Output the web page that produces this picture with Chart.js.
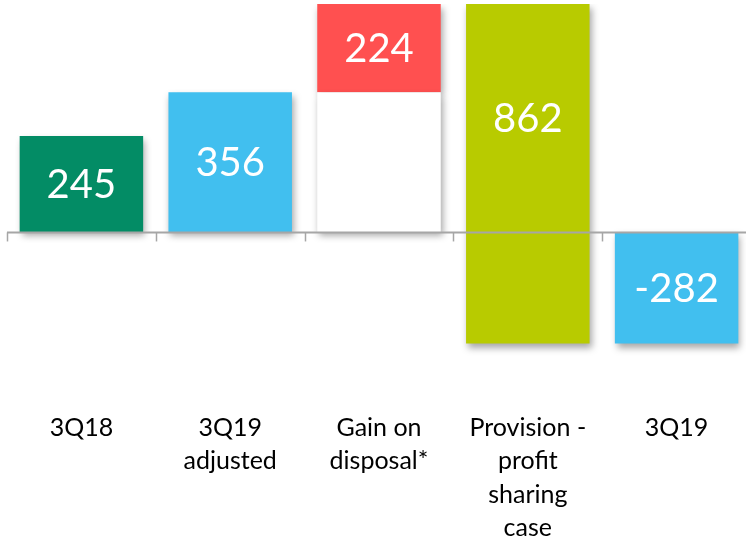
<!DOCTYPE html>
<html>
<head>
<meta charset="utf-8">
<script src="https://cdn.jsdelivr.net/npm/chart.js@4/dist/chart.umd.min.js"></script>
<style>
  html, body { margin: 0; padding: 0; background: #ffffff; overflow: hidden; }
  #wrap { position: relative; width: 751px; height: 543px; }
</style>
</head>
<body>
<div id="wrap"><canvas id="c"></canvas></div>
<script>
// ---- data ----
const categories = [["3Q18"], ["3Q19", "adjusted"], ["Gain on", "disposal*"], ["Provision -", "profit", "sharing", "case"], ["3Q19"]];
const barStarts  = [0, 0, 356, 580, 0];
const barEnds    = [245, 356, 580, -282, -282];
const valueLabels = ["245", "356", "224", "862", "-282"];
const barColors  = ["#038C65", "#41BFEF", "#FF5050", "#B8CB00", "#41BFEF"];
const baseStarts = [null, null, 0, null, null];
const baseEnds   = [null, null, 356, null, null];

const floating = barStarts.map((s, i) => [s, barEnds[i]]);
const baseData = baseStarts.map((s, i) => s === null ? null : [s, baseEnds[i]]);

const shadowPlugin = {
  id: 'shadow',
  beforeDatasetsDraw(chart) {
    const ctx = chart.ctx;
    ctx.save();
    ctx.shadowColor = 'rgba(0,0,0,0.35)';
    ctx.shadowBlur = 7;
    ctx.shadowOffsetX = 2;
    ctx.shadowOffsetY = 4;
  },
  afterDatasetsDraw(chart) {
    chart.ctx.restore();
  }
};

const overlayPlugin = {
  id: 'overlay',
  afterDatasetsDraw(chart) {
    const ctx = chart.ctx;
    const x = chart.scales.x, y = chart.scales.y;
    const area = chart.chartArea;
    const y0 = y.getPixelForValue(0);
    ctx.save();
    // zero axis line
    ctx.strokeStyle = '#A6A6A6';
    ctx.lineWidth = 2;
    ctx.beginPath();
    ctx.moveTo(area.left, y0);
    ctx.lineTo(area.right, y0);
    ctx.stroke();
    // tick marks at category boundaries
    const n = categories.length;
    const w = (area.right - area.left) / n;
    ctx.lineWidth = 1.5;
    for (let i = 0; i <= n; i++) {
      const px = Math.round(x.getPixelForValue(i) - w / 2) + 0.5;
      ctx.beginPath();
      ctx.moveTo(px, y0);
      ctx.lineTo(px, y0 + 9);
      ctx.stroke();
    }
    // value labels
    ctx.fillStyle = '#FFFFFF';
    ctx.font = '40px Lato';
    ctx.textAlign = 'center';
    ctx.textBaseline = 'middle';
    const meta = chart.getDatasetMeta(1);
    meta.data.forEach((bar, i) => {
      let a = barStarts[i], b = barEnds[i];
      let lo = Math.min(a, b), hi = Math.max(a, b);
      if (hi > 0 && lo < 0) lo = 0;
      const mid = (lo + hi) / 2;
      ctx.fillText(valueLabels[i], bar.x, y.getPixelForValue(mid) + 1);
    });
    ctx.restore();
  }
};

new Chart(document.getElementById('c'), {
  type: 'bar',
  data: {
    labels: categories,
    datasets: [
      { data: baseData, backgroundColor: '#FFFFFF', grouped: false, barPercentage: 0.83, categoryPercentage: 1.0 },
      { data: floating, backgroundColor: barColors, grouped: false, barPercentage: 0.83, categoryPercentage: 1.0 }
    ]
  },
  options: {
    responsive: true,
    maintainAspectRatio: false,
    animation: false,
    layout: { padding: { top: 4, left: 7, right: 0, bottom: 0 } },
    plugins: { legend: { display: false }, tooltip: { enabled: false } },
    scales: {
      x: {
        grid: { display: false, drawTicks: false },
        border: { display: false },
        ticks: { color: '#000000', font: { family: 'Lato', size: 25, lineHeight: 1.34 }, padding: 8, maxRotation: 0, autoSkip: false },
        afterFit(s) { s.height = 140; }
      },
      y: {
        display: false,
        min: -433,
        max: 580
      }
    }
  },
  plugins: [shadowPlugin, overlayPlugin]
});
</script>
</body>
</html>
